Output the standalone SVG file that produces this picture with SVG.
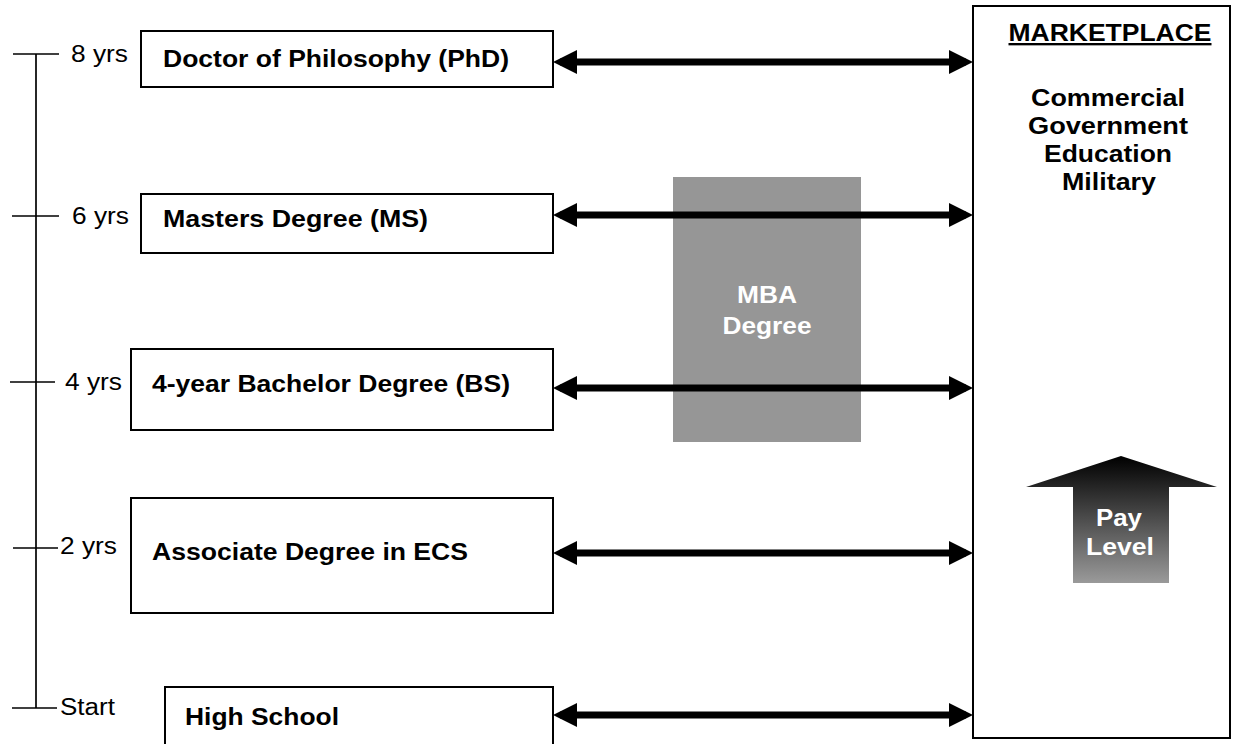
<svg xmlns="http://www.w3.org/2000/svg" width="1246" height="744" viewBox="0 0 1246 744">
  <style>
    .box { fill: #fff; stroke: #000; stroke-width: 2; }
    .lbl { font-family: "Liberation Sans", Arial, sans-serif; font-weight: bold; font-size: 23.5px; fill: #000; }
    .mid { text-anchor: middle; }
    .yrs { font-family: "Liberation Sans", Arial, sans-serif; font-size: 23px; fill: #000; }
    .tl { stroke: #000; stroke-width: 1.7; fill: none; }
    .link { stroke: #000; stroke-width: 7; fill: none; marker-start: url(#head); marker-end: url(#head); }
    .wt { font-family: "Liberation Sans", Arial, sans-serif; font-weight: bold; font-size: 23.5px; fill: #fff; text-anchor: middle; }
  </style>
  <defs>
    <marker id="head" viewBox="0 0 24 24" refX="17" refY="12" markerWidth="24" markerHeight="24" markerUnits="userSpaceOnUse" orient="auto-start-reverse">
      <path d="M0,0 L24,12 L0,24 z" fill="#000"/>
    </marker>
    <linearGradient id="payGrad" x1="0" y1="0" x2="0" y2="1">
      <stop offset="0" stop-color="#000"/>
      <stop offset="1" stop-color="#9a9a9a"/>
    </linearGradient>
  </defs>

  <rect width="1246" height="744" fill="#fff"/>

  <!-- timeline -->
  <g id="timeline">
    <line class="tl" x1="36" y1="54" x2="36" y2="708"/>
    <line class="tl" x1="13" y1="54" x2="59" y2="54"/>
    <line class="tl" x1="12" y1="216" x2="59" y2="216"/>
    <line class="tl" x1="10" y1="382" x2="55" y2="382"/>
    <line class="tl" x1="13" y1="548" x2="58" y2="548"/>
    <line class="tl" x1="12" y1="708" x2="57" y2="708"/>
    <text class="yrs" x="71" y="62" textLength="57" lengthAdjust="spacingAndGlyphs">8 yrs</text>
    <text class="yrs" x="72" y="224" textLength="57" lengthAdjust="spacingAndGlyphs">6 yrs</text>
    <text class="yrs" x="65" y="390" textLength="57" lengthAdjust="spacingAndGlyphs">4 yrs</text>
    <text class="yrs" x="60" y="554" textLength="57" lengthAdjust="spacingAndGlyphs">2 yrs</text>
    <text class="yrs" x="60" y="715" textLength="55" lengthAdjust="spacingAndGlyphs">Start</text>
  </g>

  <!-- MBA block -->
  <g id="mba">
    <rect x="673" y="177" width="188" height="265" fill="#969696"/>
    <text class="wt" x="767" y="303" textLength="60" lengthAdjust="spacingAndGlyphs">MBA</text>
    <text class="wt" x="767" y="334" textLength="89" lengthAdjust="spacingAndGlyphs">Degree</text>
  </g>

  <g id="phd">
    <rect class="box" x="141" y="31" width="412" height="56"/>
    <text class="lbl" x="163" y="67" textLength="346" lengthAdjust="spacingAndGlyphs">Doctor of Philosophy (PhD)</text>
  </g>
  <g id="ms">
    <rect class="box" x="141" y="194" width="412" height="59"/>
    <text class="lbl" x="163" y="227" textLength="265" lengthAdjust="spacingAndGlyphs">Masters Degree (MS)</text>
  </g>
  <g id="bs">
    <rect class="box" x="131" y="349" width="422" height="81"/>
    <text class="lbl" x="152" y="392" textLength="358" lengthAdjust="spacingAndGlyphs">4-year Bachelor Degree (BS)</text>
  </g>
  <g id="associate">
    <rect class="box" x="131" y="498" width="422" height="115"/>
    <text class="lbl" x="152" y="560" textLength="316" lengthAdjust="spacingAndGlyphs">Associate Degree in ECS</text>
  </g>
  <g id="highschool">
    <rect class="box" x="165" y="687" width="388" height="62"/>
    <text class="lbl" x="185" y="725" textLength="154" lengthAdjust="spacingAndGlyphs">High School</text>
  </g>

  <g id="marketplace">
    <rect class="box" x="973" y="6" width="257" height="732"/>
    <text class="lbl mid" x="1110" y="41" textLength="203" lengthAdjust="spacingAndGlyphs" text-decoration="underline">MARKETPLACE</text>
    <text class="lbl mid" x="1108" y="106" textLength="154" lengthAdjust="spacingAndGlyphs">Commercial</text>
    <text class="lbl mid" x="1108" y="134" textLength="160" lengthAdjust="spacingAndGlyphs">Government</text>
    <text class="lbl mid" x="1108" y="162" textLength="128" lengthAdjust="spacingAndGlyphs">Education</text>
    <text class="lbl mid" x="1109" y="190" textLength="94" lengthAdjust="spacingAndGlyphs">Military</text>
  </g>

  <g id="paylevel">
    <path d="M1121,456 L1217,487 L1169,487 L1169,583 L1073,583 L1073,487 L1026,487 z" fill="url(#payGrad)"/>
    <text class="wt" x="1119" y="526" textLength="46" lengthAdjust="spacingAndGlyphs">Pay</text>
    <text class="wt" x="1120" y="555" textLength="68" lengthAdjust="spacingAndGlyphs">Level</text>
  </g>

  <!-- connectors -->
  <g id="connectors">
    <line class="link" x1="560" y1="62" x2="966" y2="62"/>
    <line class="link" x1="560" y1="215" x2="966" y2="215"/>
    <line class="link" x1="560" y1="388" x2="966" y2="388"/>
    <line class="link" x1="560" y1="553" x2="966" y2="553"/>
    <line class="link" x1="560" y1="715" x2="966" y2="715"/>
  </g>
</svg>
